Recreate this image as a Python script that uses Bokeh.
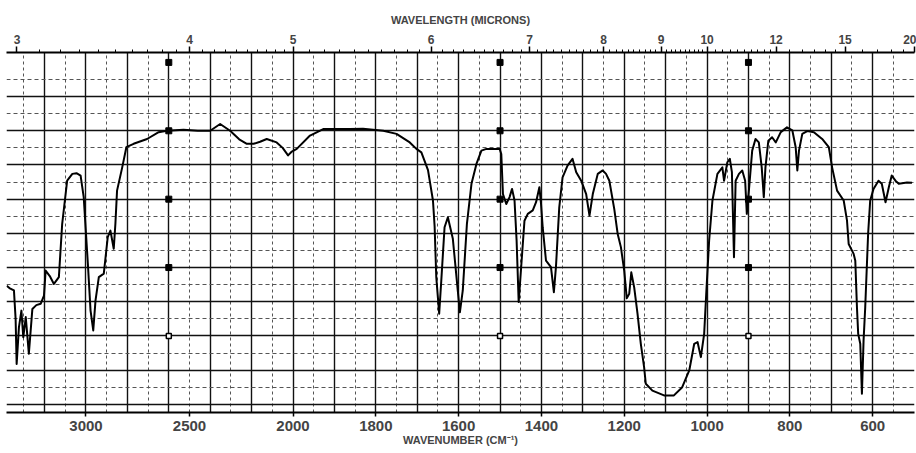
from bokeh.plotting import figure
from bokeh.models import Range1d, LinearAxis, FixedTicker, Grid, ColumnDataSource
from bokeh.embed import file_html
from bokeh.resources import INLINE

# ---- data ----
wavenumber = [3383, 3370, 3348, 3340, 3335, 3324, 3312, 3303, 3291, 3276, 3259, 3240, 3219, 3203,
              3195, 3175, 3155, 3131, 3115, 3091, 3066, 3046, 3026, 3011, 2991, 2978, 2965, 2954,
              2938, 2914, 2895, 2882, 2866, 2858, 2850, 2825, 2805, 2770, 2705, 2649, 2609, 2529,
              2460, 2400, 2352, 2304, 2260, 2223, 2190, 2159, 2127, 2079, 2050, 2024, 2008, 1991,
              1959, 1927, 1863, 1831, 1782, 1750, 1718, 1702, 1690, 1674, 1662, 1658, 1654, 1647,
              1642, 1634, 1626, 1614, 1602, 1597, 1590, 1580, 1569, 1557, 1545, 1533, 1501, 1497,
              1493, 1485, 1477, 1471, 1465, 1460, 1455, 1449, 1441, 1433, 1421, 1413, 1405, 1401,
              1397, 1389, 1377, 1370, 1365, 1357, 1349, 1337, 1325, 1316, 1304, 1292, 1284, 1276,
              1264, 1252, 1244, 1236, 1224, 1216, 1208, 1200, 1194, 1188, 1183, 1176, 1168, 1160,
              1152, 1148, 1132, 1104, 1080, 1060, 1043, 1031, 1023, 1015, 1007, 1002, 995, 987,
              975, 963, 959, 951, 945, 940, 935, 931, 923, 915, 908, 904, 899, 891, 883, 875, 868,
              863, 859, 852, 843, 834, 822, 807, 794, 786, 782, 778, 770, 758, 742, 722, 706, 698,
              686, 670, 662, 658, 646, 642, 638, 635, 630, 626, 622, 618, 611, 606, 598, 586, 578,
              569, 561, 554, 545, 537, 517, 505]
transmittance = [34.7, 34.0, 33.3, 25.0, 11.8, 22.5, 27.4, 19.6, 25.5, 14.8, 27.9, 29.0, 29.4, 31.8,
                 39.1, 37.5, 35.2, 37.2, 52.8, 65.4, 67.4, 67.6, 66.9, 60.6, 41.1, 27.4, 21.6, 30.4,
                 37.2, 38.2, 48.9, 50.8, 45.5, 52.8, 62.5, 69.3, 75.2, 76.2, 77.6, 79.6, 80.0, 80.3,
                 80.0, 80.0, 82.0, 80.0, 77.5, 76.2, 76.2, 76.8, 77.6, 76.6, 75.0, 72.8, 73.8, 74.7,
                 78.6, 80.5, 80.5, 80.6, 80.0, 79.1, 76.6, 74.7, 73.7, 68.5, 59.6, 52.0, 37.2, 26.5,
                 36.0, 51.8, 54.7, 48.4, 33.2, 26.9, 33.3, 52.8, 64.5, 70.3, 74.2, 74.7, 74.7, 73.2,
                 61.5, 58.6, 60.6, 63.0, 59.6, 47.9, 29.9, 40.1, 53.7, 55.7, 56.7, 59.1, 63.5, 58.6,
                 51.8, 42.0, 40.1, 32.8, 40.1, 57.6, 66.4, 69.8, 71.8, 67.9, 65.4, 61.5, 55.2, 61.5,
                 67.4, 68.4, 67.4, 65.4, 57.0, 49.9, 45.9, 39.0, 31.0, 32.3, 38.6, 34.2, 26.5, 17.7,
                 10.8, 6.0, 4.0, 2.6, 2.6, 5.0, 9.9, 17.7, 18.2, 13.8, 20.6, 32.3, 47.9, 59.6,
                 67.4, 69.3, 65.4, 70.8, 71.8, 67.9, 43.0, 65.4, 67.4, 68.4, 65.4, 55.7, 62.5, 74.2,
                 77.6, 76.6, 69.3, 60.6, 69.3, 77.1, 78.1, 76.6, 79.6, 81.0, 80.1, 75.2, 68.4, 74.2,
                 79.1, 79.9, 79.6, 77.6, 75.2, 69.3, 62.5, 59.6, 53.7, 46.9, 44.0, 42.0, 28.4, 20.6,
                 17.7, 3.1, 18.7, 28.4, 49.9, 59.6, 63.0, 65.4, 64.5, 59.1, 63.5, 66.9, 65.4, 64.5,
                 64.9, 64.8]

calib_wavenumbers = [2600, 1500, 900]
calib_transmittance_filled = [100, 80, 60, 40]
calib_transmittance_open = [20]

bottom_tick_wavenumbers = [3000, 2500, 2000, 1800, 1600, 1400, 1200, 1000, 800, 600]
top_tick_microns = [3, 4, 5, 6, 7, 8, 9, 10, 12, 15, 20]
top_tick_labels = ["3", "4", "5", "6", "7", "8", "9", "10", "12", "15", "20"]

solid_grid_wavenumbers = [3200, 3000, 2800, 2600, 2400, 2200] + list(range(2000, 599, -100))
dotted_grid_wavenumbers = [3300, 3100, 2900, 2700, 2500, 2300, 2100] + list(range(1950, 549, -100))
solid_grid_T = [0, 10, 20, 30, 40, 50, 60, 70, 80, 90]
dotted_grid_T = [5, 15, 25, 35, 45, 55, 65, 75, 85, 95]


# chart paper: 2x compressed scale above 2000 cm-1
def to_u(w):
    return round(float(2000 - w) if w <= 2000 else -(w - 2000) / 2.0, 3)


def micron_minor():
    out = []
    m = 3.0
    while m < 10.0 - 1e-9:
        out.append(round(m, 2)); m += 0.1
    m = 10.0
    while m < 12.0 - 1e-9:
        out.append(round(m, 2)); m += 0.2
    m = 12.0
    while m < 15.0 - 1e-9:
        out.append(round(m, 2)); m += 0.5
    for m in [15, 16, 17, 18, 19, 20]:
        out.append(m)
    return [to_u(10000.0 / m) for m in out if m not in top_tick_microns]


src = ColumnDataSource(data=dict(u=[to_u(w) for w in wavenumber], T=transmittance))

p = figure(width=916, height=453,
           x_range=Range1d(to_u(3384), to_u(499)), y_range=Range1d(-2.4, 102.9),
           x_axis_type=None, y_axis_type=None,
           toolbar_location=None, output_backend="svg",
           min_border_left=6, min_border_right=2, min_border_top=52, min_border_bottom=41,
           outline_line_color=None, background_fill_color="white", border_fill_color="white")

FONT = "Liberation Sans"

# grids
xg = Grid(dimension=0,
          ticker=FixedTicker(ticks=[to_u(w) for w in solid_grid_wavenumbers],
                             minor_ticks=[to_u(w) for w in dotted_grid_wavenumbers]),
          grid_line_color="#111111", grid_line_width=1.4,
          minor_grid_line_color="#555555", minor_grid_line_width=1.0, minor_grid_line_dash="3 3")
yg = Grid(dimension=1,
          ticker=FixedTicker(ticks=solid_grid_T, minor_ticks=dotted_grid_T),
          grid_line_color="#111111", grid_line_width=1.4,
          minor_grid_line_color="#555555", minor_grid_line_width=1.0, minor_grid_line_dash="4 3")
p.add_layout(xg)
p.add_layout(yg)

# bottom axis (wavenumber)
b_ticks = [to_u(w) for w in bottom_tick_wavenumbers]
bottom = LinearAxis(ticker=FixedTicker(ticks=b_ticks, minor_ticks=[]),
                    major_label_overrides={t: str(w) for t, w in zip(b_ticks, bottom_tick_wavenumbers)},
                    axis_label="WAVENUMBER (CM\u207b\u00b9)")
bottom.axis_line_width = 2
bottom.major_tick_out = 4
bottom.major_tick_in = 0
bottom.major_tick_line_width = 1.5
bottom.major_label_standoff = 4
bottom.major_label_text_font = FONT
bottom.major_label_text_font_style = "bold"
bottom.major_label_text_font_size = "15px"
bottom.axis_label_text_font = FONT
bottom.axis_label_text_font_style = "bold"
bottom.axis_label_text_font_size = "11px"
bottom.axis_label_standoff = 0
p.add_layout(bottom, "below")

# top axis (wavelength)
t_ticks = [to_u(10000.0 / m) for m in top_tick_microns]
top = LinearAxis(ticker=FixedTicker(ticks=t_ticks, minor_ticks=micron_minor()),
                 major_label_overrides={t: s for t, s in zip(t_ticks, top_tick_labels)},
                 axis_label="WAVELENGTH (MICRONS)")
top.axis_line_width = 2
top.major_tick_out = 6
top.major_tick_in = 0
top.minor_tick_out = 3
top.minor_tick_in = 0
top.major_tick_line_width = 1.5
top.major_label_standoff = 3
top.major_label_text_font = FONT
top.major_label_text_font_style = "bold"
top.major_label_text_font_size = "12px"
top.axis_label_text_font = FONT
top.axis_label_text_font_style = "bold"
top.axis_label_text_font_size = "11px"
top.axis_label_standoff = 6
p.add_layout(top, "above")

# calibration marks on the chart paper
fx, fy, ox, oy = [], [], [], []
for w in calib_wavenumbers:
    for t in calib_transmittance_filled:
        fx.append(to_u(w)); fy.append(t)
    for t in calib_transmittance_open:
        ox.append(to_u(w)); oy.append(t)
p.scatter(fx, fy, marker="square", size=6, color="black")
p.scatter(ox, oy, marker="square", size=5, fill_color="white", line_color="black", line_width=1.5)

# spectrum
p.line("u", "T", source=src, line_color="black", line_width=2, line_join="round")

open("out.html", "w").write(file_html(p, INLINE))
